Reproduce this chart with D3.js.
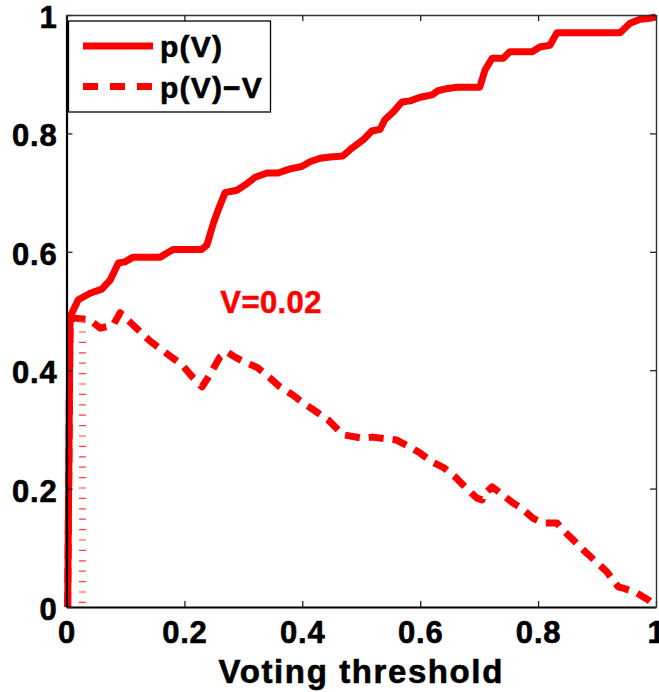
<!DOCTYPE html>
<html>
<head>
<meta charset="utf-8">
<script src="https://cdn.jsdelivr.net/npm/d3@7"></script>
<style>
  html, body { margin: 0; padding: 0; background: #fff; overflow: hidden; }
  svg { display: block; font-family: "Liberation Sans", Arial, sans-serif; font-weight: bold; }
</style>
</head>
<body>
<svg width="659" height="692"></svg>
<script>
// values
var pvX = [0.002, 0.006, 0.02, 0.04, 0.06, 0.074, 0.088, 0.099, 0.113, 0.159, 0.181, 0.229, 0.238, 0.249, 0.257, 0.269,
  0.289, 0.303, 0.32, 0.34, 0.359, 0.379, 0.399, 0.413, 0.43, 0.447, 0.469, 0.484, 0.503, 0.518, 0.532, 0.54, 0.554,
  0.569, 0.583, 0.6, 0.62, 0.63, 0.647, 0.662, 0.701, 0.71, 0.722, 0.741, 0.752, 0.79, 0.803, 0.82, 0.832, 0.939,
  0.956, 0.973, 0.993, 1.0];
var pvY = [0, 0.49, 0.519, 0.53, 0.537, 0.552, 0.581, 0.583, 0.591, 0.591, 0.604, 0.604, 0.611, 0.648, 0.67, 0.7,
  0.704, 0.713, 0.726, 0.733, 0.733, 0.74, 0.744, 0.752, 0.758, 0.76, 0.762, 0.775, 0.789, 0.804, 0.807, 0.823, 0.836,
  0.853, 0.855, 0.861, 0.865, 0.872, 0.876, 0.878, 0.878, 0.907, 0.927, 0.927, 0.938, 0.938, 0.946, 0.949, 0.97, 0.97,
  0.986, 0.993, 0.995, 0.997];

var diffX = [0.002, 0.006, 0.014, 0.04, 0.057, 0.079, 0.091, 0.108, 0.142, 0.181, 0.196, 0.215, 0.23, 0.243, 0.26,
  0.272, 0.286, 0.306, 0.323, 0.345, 0.362, 0.384, 0.401, 0.425, 0.444, 0.458, 0.469, 0.503, 0.52, 0.543, 0.56, 0.583,
  0.6, 0.62, 0.639, 0.659, 0.676, 0.696, 0.705, 0.707, 0.722, 0.735, 0.757, 0.772, 0.791, 0.808, 0.832, 0.842, 0.86,
  0.877, 0.899, 0.917, 0.936, 0.944, 0.967, 0.987, 0.998];
var diffY = [0, 0.485, 0.488, 0.485, 0.471, 0.476, 0.497, 0.481, 0.449, 0.42, 0.409, 0.387, 0.372, 0.392, 0.422,
  0.431, 0.422, 0.412, 0.405, 0.387, 0.372, 0.358, 0.345, 0.329, 0.316, 0.302, 0.291, 0.285, 0.287, 0.284, 0.282, 0.27,
  0.26, 0.245, 0.236, 0.22, 0.203, 0.184, 0.181, 0.189, 0.203, 0.193, 0.176, 0.167, 0.15, 0.142, 0.142, 0.13, 0.113,
  0.096, 0.076, 0.059, 0.034, 0.032, 0.024, 0.012, 0.003];

var markV = 0.027, markTop = 0.485;
var markLabel = "V=0.02";
var tickVals = [0, 0.2, 0.4, 0.6, 0.8, 1];
var legendLabels = ["p(V)", "p(V)\u2212V"];
var xLabel = "Voting threshold";

var plotL = 66.5, plotR = 656, plotT = 15, plotB = 607;
var svg = d3.select("svg");

var x = d3.scaleLinear().domain([0, 1]).range([plotL, plotR]);
var y = d3.scaleLinear().domain([0, 1]).range([plotB, plotT]);
var fmt = d3.format("~g");

// curves
var line = d3.line().x(function(d) { return x(d[0]); }).y(function(d) { return y(d[1]); });

svg.append("path")
  .datum(d3.zip(pvX, pvY))
  .attr("d", line)
  .attr("fill", "none")
  .attr("stroke", "#ff0000")
  .attr("stroke-width", 7)
  .attr("stroke-linejoin", "round");

svg.append("path")
  .datum(d3.zip(diffX, diffY))
  .attr("d", line)
  .attr("fill", "none")
  .attr("stroke", "#ff0000")
  .attr("stroke-width", 7)
  .attr("stroke-dasharray", "15,9")
  .attr("stroke-linejoin", "round");

// dotted marker at V
svg.append("line")
  .attr("x1", x(markV)).attr("x2", x(markV))
  .attr("y1", y(0) - 4).attr("y2", y(markTop))
  .attr("stroke", "#ff4040")
  .attr("stroke-width", 7)
  .attr("stroke-dasharray", "1.2,9.2");

svg.append("text")
  .attr("x", x(0.261))
  .attr("y", y(0.496))
  .attr("fill", "#ff0000")
  .attr("stroke", "#ff0000")
  .attr("stroke-width", 0.5)
  .attr("font-size", 31)
  .attr("letter-spacing", 0.4)
  .text(markLabel);

// axes, ticks inside on all four sides
var gx = svg.append("g").attr("transform", "translate(0," + plotB + ")")
  .call(d3.axisBottom(x).tickValues(tickVals).tickSizeInner(-6).tickSizeOuter(0).tickPadding(14).tickFormat(fmt));
var gy = svg.append("g").attr("transform", "translate(" + plotL + ",0)")
  .call(d3.axisLeft(y).tickValues(tickVals).tickSizeInner(-6).tickSizeOuter(0).tickPadding(9).tickFormat(fmt));
var gt = svg.append("g").attr("transform", "translate(0," + plotT + ")")
  .call(d3.axisTop(x).tickValues(tickVals).tickSizeInner(-6).tickSizeOuter(0).tickFormat(""));
var gr = svg.append("g").attr("transform", "translate(" + plotR + ",0)")
  .call(d3.axisRight(y).tickValues(tickVals).tickSizeInner(-6).tickSizeOuter(0).tickFormat(""));

[gx, gy, gt, gr].forEach(function(g) {
  g.selectAll("text").attr("fill", "#000").attr("stroke", "#000").attr("stroke-width", 0.6)
    .style("font-size", "31px")
    .style("font-family", "'Liberation Sans', Arial, sans-serif").style("font-weight", "bold")
    .attr("letter-spacing", 0.8);
  g.selectAll(".tick line").attr("stroke", "#222").attr("stroke-width", 1.3);
});
gx.select(".domain").attr("stroke", "#000").attr("stroke-width", 2.2);
gy.select(".domain").attr("stroke", "#000").attr("stroke-width", 2.2);
gt.select(".domain").attr("stroke", "#333").attr("stroke-width", 1.4);
gr.select(".domain").attr("stroke", "#333").attr("stroke-width", 1.4);
gy.selectAll("text").attr("dy", "0.4em");

svg.append("text")
  .attr("x", (plotL + plotR) / 2)
  .attr("y", 683)
  .attr("text-anchor", "middle")
  .attr("font-size", 33)
  .attr("stroke", "#000")
  .attr("stroke-width", 0.6)
  .attr("letter-spacing", 1.6)
  .text(xLabel);

// legend
var legend = svg.append("g");
legend.append("rect")
  .attr("x", 68.5).attr("y", 21).attr("width", 202).attr("height", 91)
  .attr("fill", "#fff").attr("stroke", "#000").attr("stroke-width", 1.3);

var item = legend.selectAll("g.item")
  .data(legendLabels)
  .enter().append("g")
  .attr("class", "item")
  .attr("transform", function(d, i) { return "translate(0," + (46 + i * 40.5) + ")"; });

item.append("line")
  .attr("x1", 83).attr("x2", 153)
  .attr("stroke", "#ff0000")
  .attr("stroke-width", 7)
  .attr("stroke-dasharray", function(d, i) { return i ? "15,12" : null; });

item.append("text")
  .attr("x", 160)
  .attr("y", 11)
  .attr("font-size", 30)
  .attr("letter-spacing", 1.2)
  .attr("fill", "#000")
  .attr("stroke", "#000")
  .attr("stroke-width", 0.6)
  .text(function(d) { return d; });
</script>
</body>
</html>
